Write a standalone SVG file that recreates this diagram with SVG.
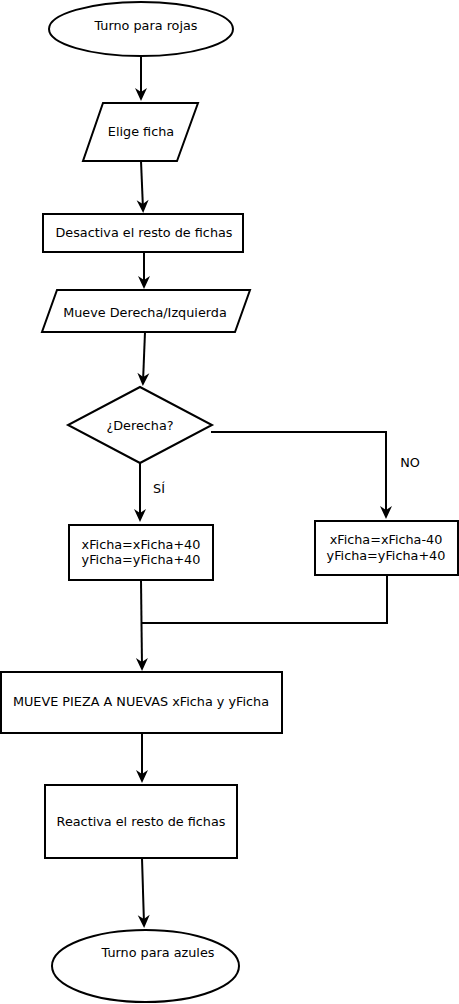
<svg xmlns="http://www.w3.org/2000/svg" width="459" height="1004" viewBox="0 0 459 1004">
<style>
.s{fill:#fff;stroke:#000;stroke-width:2}
.c{fill:none;stroke:#000;stroke-width:2}
text{font-family:"DejaVu Sans","Liberation Sans",sans-serif;font-size:12.8px;fill:#000;text-anchor:middle}
</style>
<defs>
<marker id="ah" viewBox="-14 -7 15 14" markerWidth="15" markerHeight="14" refX="-4" refY="0" orient="auto" markerUnits="userSpaceOnUse">
<path d="M0,0 L-13,-6 L-9,0 L-13,6 Z" fill="#000"/>
</marker>
</defs>
<g id="connectors">
<path class="c" d="M141,57 L141,97" marker-end="url(#ah)"/>
<path class="c" d="M141,161 L143,209" marker-end="url(#ah)"/>
<path class="c" d="M144,252 L144,285" marker-end="url(#ah)"/>
<path class="c" d="M145,332 L143,382" marker-end="url(#ah)"/>
<path class="c" d="M140,463 L140,518" marker-end="url(#ah)"/>
<path class="c" d="M211,432 L386,432 L386,515" marker-end="url(#ah)"/>
<path class="c" d="M141,580 L142,667" marker-end="url(#ah)"/>
<path class="c" d="M387,575 L387,623 L142,623"/>
<path class="c" d="M142,733 L142,779" marker-end="url(#ah)"/>
<path class="c" d="M142,858 L144,924" marker-end="url(#ah)"/>
<text x="159" y="493">SÍ</text>
<text x="410" y="467">NO</text>
</g>
<g id="start">
<ellipse class="s" cx="141" cy="29" rx="92" ry="27"/>
<text x="146" y="30">Turno para rojas</text>
</g>
<g id="elige">
<polygon class="s" points="103,103 198,103 177,161 83,161"/>
<text x="141" y="136">Elige ficha</text>
</g>
<g id="desactiva">
<rect class="s" x="43" y="214" width="200" height="38"/>
<text x="144" y="237">Desactiva el resto de fichas</text>
</g>
<g id="mueve">
<polygon class="s" points="57,290 250,290 235,332 42,332"/>
<text x="145" y="317">Mueve Derecha/Izquierda</text>
</g>
<g id="derecha">
<polygon class="s" points="140,387 212,425 140,463 68,425"/>
<text x="140" y="430">¿Derecha?</text>
</g>
<g id="si-box">
<rect class="s" x="69" y="525" width="144" height="55"/>
<text x="141" y="549">xFicha=xFicha+40</text>
<text x="141" y="564">yFicha=yFicha+40</text>
</g>
<g id="no-box">
<rect class="s" x="315" y="521" width="143" height="54"/>
<text x="386" y="544">xFicha=xFicha-40</text>
<text x="386" y="560">yFicha=yFicha+40</text>
</g>
<g id="mueve-pieza">
<rect class="s" x="1" y="672" width="281" height="61"/>
<text x="141" y="706">MUEVE PIEZA A NUEVAS xFicha y yFicha</text>
</g>
<g id="reactiva">
<rect class="s" x="45" y="785" width="192" height="73"/>
<text x="141" y="826">Reactiva el resto de fichas</text>
</g>
<g id="end">
<ellipse class="s" cx="145.5" cy="966" rx="93.5" ry="36"/>
<text x="158" y="957">Turno para azules</text>
</g>
</svg>
